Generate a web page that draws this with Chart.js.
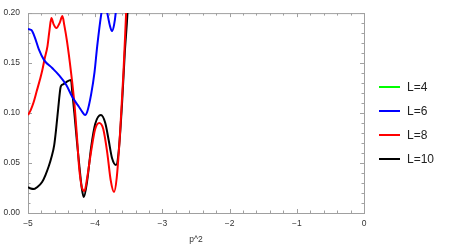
<!DOCTYPE html>
<html>
<head>
<meta charset="utf-8">
<script src="https://cdn.jsdelivr.net/npm/chart.js@4/dist/chart.umd.min.js"></script>
<style>
  body { margin: 0; background: #fff; }
  #wrap { position: relative; width: 458px; height: 247px; }
  #legend { position: absolute; left: 379px; top: 0; font-family: "Liberation Sans", Arial, sans-serif; font-size: 12px; color: #222; }
  .item { position: absolute; left: 0; width: 70px; height: 14px; }
  .item span.ln { position: absolute; left: 0; top: 6px; width: 21px; height: 2px; }
  .item span.tx { position: absolute; left: 28px; top: 0; line-height: 14px; }
</style>
</head>
<body>
<div id="wrap">
  <canvas id="grafica" width="458" height="247"></canvas>
  <div id="legend"></div>
</div>
<script>
// L=4 no aparece dentro del rango de la grafica
const xL4 = [];
const yL4 = [];

const xL6 = [-5.00, -4.95, -4.90, -4.84, -4.76, -4.64, -4.54, -4.43, -4.34, -4.24, -4.19, -4.15, -4.12, -4.06, -4.01, -3.97, -3.91, -3.865, -3.82, -3.78, -3.75, -3.72, -3.695, -3.66];
const yL6 = [0.184, 0.183, 0.176, 0.164, 0.153, 0.145, 0.138, 0.128, 0.116, 0.106, 0.101, 0.098, 0.101, 0.119, 0.141, 0.167, 0.199, 0.215, 0.200, 0.187, 0.182, 0.188, 0.200, 0.230];

const xL8 = [-5.00, -4.96, -4.92, -4.87, -4.82, -4.79, -4.75, -4.71, -4.68, -4.652, -4.62, -4.577, -4.53, -4.488, -4.46, -4.42, -4.36, -4.31, -4.27, -4.24, -4.20, -4.16, -4.12, -4.06, -4.00, -3.94, -3.88, -3.82, -3.77, -3.72, -3.68, -3.63, -3.58, -3.54, -3.50];
const yL8 = [0.098, 0.103, 0.110, 0.122, 0.134, 0.142, 0.155, 0.167, 0.183, 0.195, 0.189, 0.185, 0.190, 0.197, 0.188, 0.172, 0.141, 0.110, 0.075, 0.046, 0.026, 0.022, 0.035, 0.062, 0.084, 0.090, 0.084, 0.060, 0.033, 0.021, 0.035, 0.080, 0.140, 0.200, 0.260];

const xL10 = [-5.00, -4.96, -4.91, -4.86, -4.79, -4.74, -4.69, -4.65, -4.61, -4.58, -4.55, -4.52, -4.51, -4.47, -4.43, -4.36, -4.34, -4.31, -4.27, -4.24, -4.20, -4.17, -4.12, -4.06, -4.00, -3.915, -3.85, -3.80, -3.75, -3.69, -3.65, -3.60, -3.56, -3.52, -3.49];
const yL10 = [0.026, 0.0245, 0.024, 0.026, 0.031, 0.038, 0.047, 0.056, 0.068, 0.085, 0.105, 0.124, 0.127, 0.129, 0.131, 0.133, 0.120, 0.100, 0.070, 0.050, 0.025, 0.016, 0.032, 0.066, 0.089, 0.098, 0.090, 0.073, 0.055, 0.048, 0.062, 0.110, 0.160, 0.200, 0.250];

const etiquetas = ["L=4", "L=6", "L=8", "L=10"];
const colores = ["#00ff00", "#0000ff", "#ff0000", "#000000"];

const xTicks = [-5, -4, -3, -2, -1, 0];
const yTicks = [0.00, 0.05, 0.10, 0.15, 0.20];

function puntos(xs, ys) {
    return xs.map((x, i) => ({ x: x, y: ys[i] }));
}

const series = [puntos(xL4, yL4), puntos(xL6, yL6), puntos(xL8, yL8), puntos(xL10, yL10)];

const datasets = series.map((d, i) => ({
    label: etiquetas[i],
    data: d,
    borderColor: colores[i],
    borderWidth: 2,
    pointRadius: 0,
    fill: false,
    cubicInterpolationMode: "monotone"
}));

// marco con marcas hacia adentro, estilo Mathematica
const marco = {
    id: "marco",
    beforeDatasetsDraw(chart) {
        const { ctx, chartArea: a, scales } = chart;
        ctx.save();
        ctx.strokeStyle = "#a0a0a0";
        ctx.lineWidth = 1;
        ctx.strokeRect(a.left + 0.5, a.top + 0.5, a.right - a.left, a.bottom - a.top);
        ctx.beginPath();
        for (let k = 0; k <= 25; k++) {
            const v = -5 + k * 0.2;
            const px = Math.round(scales.x.getPixelForValue(v)) + 0.5;
            const len = k % 5 === 0 ? 4 : 2.5;
            ctx.moveTo(px, a.bottom); ctx.lineTo(px, a.bottom - len);
            ctx.moveTo(px, a.top); ctx.lineTo(px, a.top + len);
        }
        for (let k = 0; k <= 20; k++) {
            const v = k * 0.01;
            const py = Math.round(scales.y.getPixelForValue(v)) + 0.5;
            const len = k % 5 === 0 ? 4 : 2.5;
            ctx.moveTo(a.left, py); ctx.lineTo(a.left + len, py);
            ctx.moveTo(a.right, py); ctx.lineTo(a.right - len, py);
        }
        ctx.stroke();
        ctx.restore();
    }
};

const fuente = { family: "'Liberation Sans', Arial, sans-serif", size: 8.5 };

const config = {
    type: "line",
    data: { datasets },
    options: {
        responsive: false,
        animation: false,
        devicePixelRatio: 1,
        layout: { padding: { top: 5, right: 94, left: 0, bottom: 0 } },
        plugins: { legend: { display: false }, tooltip: { enabled: false } },
        scales: {
            x: {
                type: "linear",
                min: -5,
                max: 0,
                afterBuildTicks: (s) => { s.ticks = xTicks.map(v => ({ value: v })); },
                afterFit: (s) => { s.height = 34; },
                grid: { display: false, drawTicks: false },
                border: { display: false },
                ticks: {
                    padding: 6,
                    color: "#333",
                    font: fuente,
                    callback: (v) => v < 0 ? "\u2212" + (-v) : String(v)
                },
                title: { display: true, text: "p^2", color: "#333", font: fuente, padding: { top: 0, bottom: 2 } }
            },
            y: {
                min: 0,
                max: 0.2,
                afterBuildTicks: (s) => { s.ticks = yTicks.map(v => ({ value: v })); },
                afterFit: (s) => { s.width = 28; },
                grid: { display: false, drawTicks: false },
                border: { display: false },
                ticks: {
                    padding: 8,
                    color: "#333",
                    font: fuente,
                    callback: (v) => Number(v).toFixed(2)
                }
            }
        }
    },
    plugins: [marco]
};

new Chart(document.getElementById("grafica"), config);

// leyenda
const legend = document.getElementById("legend");
const topes = [80, 104, 128, 152];
etiquetas.forEach((t, i) => {
    const it = document.createElement("div");
    it.className = "item";
    it.style.top = topes[i] + "px";
    it.innerHTML = '<span class="ln" style="background:' + colores[i] + '"></span><span class="tx">' + t + '</span>';
    legend.appendChild(it);
});
</script>
</body>
</html>
